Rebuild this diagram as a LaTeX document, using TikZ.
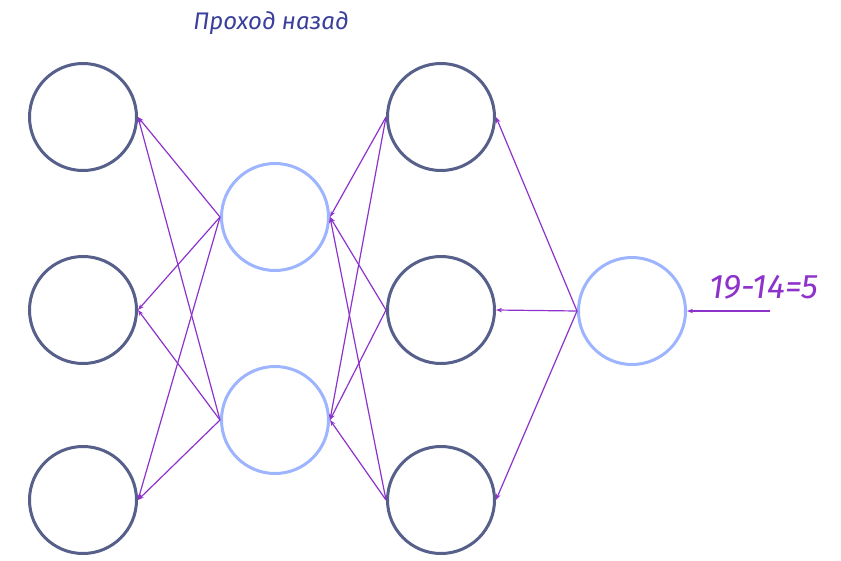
\documentclass[tikz,border=0pt]{standalone}
\usepackage{fontspec}
\setmainfont{Fira Sans}
\usetikzlibrary{arrows.meta}
\definecolor{darkc}{HTML}{56608A}
\definecolor{lightc}{HTML}{9DB4FF}
\definecolor{arr}{HTML}{8E32CC}
\definecolor{titlec}{HTML}{3A3F9C}
\begin{document}
\begin{tikzpicture}[x=1pt,y=-1pt,
  neuron/.style={circle,minimum size=107pt,inner sep=0pt,line width=3pt},
  dneuron/.style={neuron,draw=darkc},
  lneuron/.style={neuron,draw=lightc},
  back/.style={draw=arr,line width=1.2pt,-{Stealth[length=6pt,width=4.5pt]}}]
\useasboundingbox (0,0) rectangle (841,560);
\node[dneuron] (a1) at (83,117) {};
\node[dneuron] (a2) at (83,310) {};
\node[dneuron] (a3) at (83,500) {};
\node[lneuron] (h1) at (275,217) {};
\node[lneuron] (h2) at (275,420) {};
\node[dneuron] (c1) at (441,117) {};
\node[dneuron] (c2) at (441,310) {};
\node[dneuron] (c3) at (441,500) {};
\node[lneuron] (o) at (632,311) {};
\coordinate (e) at (770,311);
\foreach \s in {h1,h2}{\foreach \t in {a1,a2,a3}{\draw[back] (\s.west) -- (\t.east);}}
\foreach \s in {c1,c2,c3}{\foreach \t in {h1,h2}{\draw[back] (\s.west) -- (\t.east);}}
\foreach \t in {c1,c2,c3}{\draw[back] (o.west) -- (\t.east);}
\draw[back] (e) -- (o.east);
\node[text=titlec,font=\fontsize{24}{28}\selectfont\itshape] (title) at (271,23) {Проход назад};
\node[text=arr,font=\fontsize{34}{38}\selectfont\itshape] (lab) at (764,287) {19-14=5};
\end{tikzpicture}
\end{document}
